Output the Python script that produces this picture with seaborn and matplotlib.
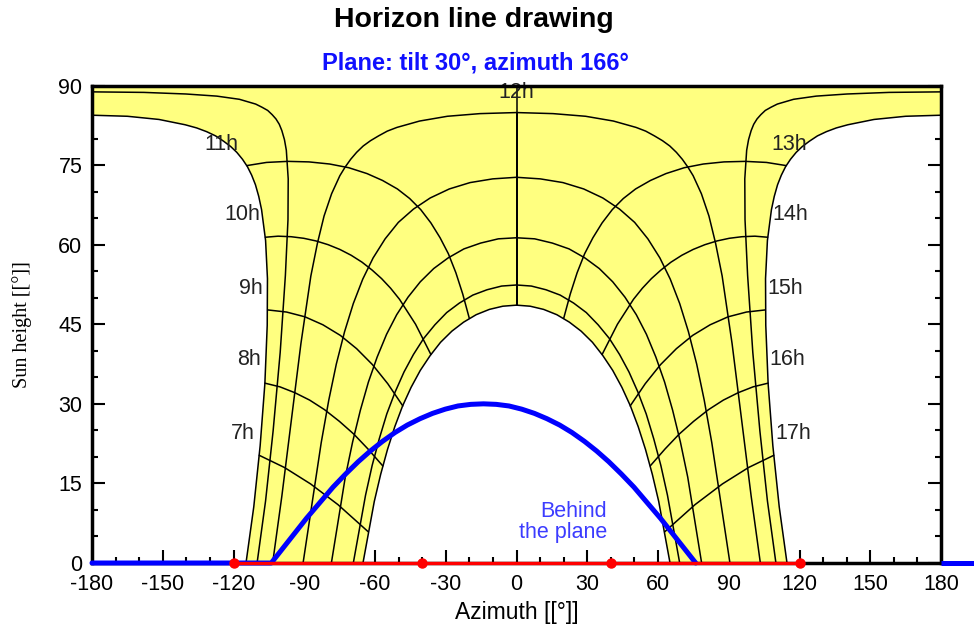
import numpy as np
import pandas as pd
import matplotlib
matplotlib.use('Agg')
import matplotlib.pyplot as plt
import seaborn as sns

# sun paths, morning half (sunrise -> solar noon); the afternoon half is its mirror image
jun_az = [-114.7, -111.4, -108.7, -106.7, -105.7, -105.6, -106.4, -108.1, -109.3, -110.7, -112.3, -114.1,
          -116.2, -118.6, -121.2, -124.2, -127.6, -131.4, -135.6, -140.5, -151.6, -165, -180]
jun_h = [0, 10.6, 22.1, 33.8, 44.8, 53.6, 60.8, 66.6, 69.1, 71.3, 73.1, 74.7,
         76.1, 77.4, 78.5, 79.5, 80.5, 81.3, 82, 82.6, 83.6, 84.2, 84.4]
may_az = [-110, -106.4, -103.2, -100.2, -98, -96.9, -96.8, -97.6, -98.4, -99.5, -100.6, -102,
          -103.6, -105.5, -107.9, -110.6, -117.5, -127.1, -140.2, -158, -180]
may_h = [0, 11.7, 24.9, 39.7, 54.2, 64.7, 72.4, 77.8, 79.8, 81.5, 82.7, 83.7,
         84.5, 85.3, 85.9, 86.5, 87.4, 88, 88.4, 88.7, 88.8]
apr_az = [-103.4, -99.5, -91.4, -87.2, -84.4, -81.6, -78.4, -74.9, -72.7, -70.3, -67.8, -65,
          -61.9, -58.5, -54.8, -50.7, -41.1, -29.3, -15.5, 0]
apr_h = [0, 12.6, 41.4, 54.1, 60.3, 65.4, 69.6, 73, 74.6, 76.1, 77.4, 78.6,
         79.6, 80.5, 81.4, 82.1, 83.3, 84.2, 84.7, 84.9]
mar_az = [-90.5, -82.8, -79.6, -76.4, -72.9, -69.2, -65.2, -60.8, -55.7, -50.1, -43.7, -36.6, -28.5, -19.7, -10.1, 0]
mar_h = [0, 22.7, 30.7, 37.5, 43.6, 48.9, 53.5, 57.5, 61.1, 64.2, 66.7, 68.8, 70.5, 71.7, 72.4, 72.7]
feb_az = [-78.5, -72.6, -69.5, -66.2, -62.8, -59.1, -55.1, -50.8, -46, -40.8, -35.1, -29, -22.3, -15.2, -7.7, 0]
feb_h = [0, 16.2, 22.8, 28.8, 34.1, 38.8, 43.1, 46.8, 50.1, 53, 55.5, 57.5, 59.2, 60.3, 61.1, 61.3]
jan_az = [-69.2, -64, -61.2, -58.2, -55, -51.5, -47.7, -43.7, -39.4, -34.6, -29.6, -24.2, -18.5, -12.5, -6.3, 0]
jan_h = [0, 12.8, 18.4, 23.4, 28.1, 32.2, 36, 39.3, 42.3, 44.9, 47.2, 49, 50.5, 51.5, 52.2, 52.4]
dec_az = [-65.1, -60.3, -57.6, -54.7, -51.6, -48.3, -44.7, -40.8, -36.6, -32.2, -27.4, -22.4, -17.1, -11.5, -5.8, 0]
dec_h = [0, 11.6, 16.7, 21.4, 25.7, 29.6, 33.1, 36.3, 39.1, 41.6, 43.7, 45.4, 46.8, 47.8, 48.4, 48.6]

# morning hour lines, from the June path to the December path
h07_az = [-109.1, -98.4, -87.3, -75.7, -62.9]
h07_h = [20.3, 18, 14.9, 11, 5.9]
h08_az = [-106.7, -100.3, -94, -87.7, -81.4, -75.1, -69, -63, -56.7]
h08_h = [33.9, 33.2, 32.1, 30.7, 28.9, 26.7, 24.3, 21.5, 18.3]
h09_az = [-105.5, -97.5, -89.7, -82.1, -74.7, -67.8, -61.1, -54.6, -48.2]
h09_h = [47.7, 47.3, 46.4, 44.9, 42.9, 40.4, 37.4, 33.8, 29.6]
h10_az = [-106.5, -101.1, -95.6, -90.2, -85, -79.9, -74.9, -70.1, -65.5, -61.2, -57.2, -53.4, -49.6, -42.8, -36.3]
h10_h = [61.4, 61.6, 61.5, 61.2, 60.7, 60, 59.1, 58, 56.7, 55.2, 53.6, 51.8, 49.7, 45, 39.3]
h11_az = [-114.4, -106, -97, -88, -79.2, -71.1, -63.4, -56.8, -50.5, -45.3, -40.6, -36.3, -32.4, -28.9,
          -25.7, -22.8, -20]
h11_h = [74.9, 75.5, 75.7, 75.6, 75.2, 74.5, 73.4, 72.1, 70.5, 68.7, 66.6, 64.1, 61.3, 58.3,
         54.7, 50.7, 46.1]

# plane horizon (tilt 30, azimuth 166)
plane_az = [-180, -104.0, -89.1, -77.8, -72.4, -67.1, -62.0, -56.9, -51.5, -46.3, -40.9, -35.6, -30.2, -24.8,
            -19.4, -14.0, -8.6, -3.2, 2.2, 7.6, 12.9, 18.3, 23.5, 28.9, 34.0, 39.1, 44.4, 49.8, 61.1, 76.0]
plane_h = [0, 0.0, 8.4, 14.3, 16.8, 19.1, 21.1, 22.9, 24.6, 26.0, 27.2, 28.2, 29.0, 29.6,
           29.9, 30.0, 29.9, 29.6, 29.0, 28.2, 27.2, 26.0, 24.6, 22.9, 21.1, 19.1, 16.8, 14.3, 8.4, 0.0]

# far horizon points
far_az = [-120, -40, 40, 120]
far_h = [0, 0, 0, 0]

hour_labels = ['7h', '8h', '9h', '10h', '11h', '12h', '13h', '14h', '15h', '16h', '17h']

paths = {'jun': (jun_az, jun_h), 'may': (may_az, may_h), 'apr': (apr_az, apr_h), 'mar': (mar_az, mar_h),
         'feb': (feb_az, feb_h), 'jan': (jan_az, jan_h), 'dec': (dec_az, dec_h)}
hours = {7: (h07_az, h07_h), 8: (h08_az, h08_h), 9: (h09_az, h09_h), 10: (h10_az, h10_h), 11: (h11_az, h11_h)}

W, H = 974, 630
x0, x1, yb, yt = 92, 941, 563, 85.5

sns.set_theme(style='white')
plt.rcParams['font.family'] = ['Liberation Sans', 'DejaVu Sans']
plt.rcParams['axes.unicode_minus'] = False

fig = plt.figure(figsize=(W / 100, H / 100), dpi=100)
ax = fig.add_axes([x0 / W, 1 - yb / H, (x1 - x0) / W, (yb - yt) / H])

# yellow area between the June and December paths
jaz, jh = np.array(jun_az), np.array(jun_h)
daz, dh = np.array(dec_az), np.array(dec_h)
fill_az = list(jaz) + [-180, 180] + list(-jaz[::-1]) + list(-daz) + list(daz[::-1])
fill_h = list(jh) + [90, 90] + list(jh[::-1]) + list(dh) + list(dh[::-1])
ax.fill(fill_az, fill_h, color='#ffff80', lw=0, zorder=1)

# date paths and hour lines
rows = []
for nm, (a, b) in paths.items():
    rows += [(nm + 'am', x, y) for x, y in zip(a, b)]
    rows += [(nm + 'pm', -x, y) for x, y in zip(a, b)]
for hr, (a, b) in hours.items():
    rows += [(f'{hr}am', x, y) for x, y in zip(a, b)]
    rows += [(f'{hr}pm', -x, y) for x, y in zip(a, b)]
noon = [b[-1] for a, b in paths.values() if a[-1] == 0] + [90]
rows += [('12', 0, y) for y in noon]
grid = pd.DataFrame(rows, columns=['curve', 'az', 'h'])
sns.lineplot(data=grid, x='az', y='h', units='curve', estimator=None, sort=False,
             color='black', lw=1.1, ax=ax, zorder=3)

hour_pos = [(-116.0, 24.5), (-113.4, 38.3), (-112.8, 51.8), (-116.4, 65.6), (-125.3, 78.9),
            (0, 88.6), (115.7, 78.9), (116.0, 65.6), (114.0, 51.8), (114.7, 38.3), (117.4, 24.5)]
for t, (x, y) in zip(hour_labels, hour_pos):
    ax.text(x, y, t, ha='center', va='center', fontsize=15.5, color='#222222', zorder=4)

# plane horizon and far horizon
ax.plot(plane_az, plane_h, color='#0000ff', lw=3.6, clip_on=False, zorder=9)
ax.plot([180, 200], [0, 0], color='#0000ff', lw=3.6, clip_on=False, zorder=9, solid_capstyle='butt')
ax.plot(far_az, far_h, color='#ff0000', lw=2.4, marker='o', ms=6.5,
        mec='#ff0000', mfc='#ff0000', clip_on=False, zorder=10)

ax.text(38.4, 7.8, 'Behind\nthe plane', ha='right', va='center', multialignment='right',
        fontsize=15.5, color='#3c3cff', linespacing=1.0, zorder=7)

ax.set_xlim(-180, 180)
ax.set_ylim(0, 90)
ax.set_xticks(range(-180, 181, 30))
ax.set_xticks(range(-180, 181, 10), minor=True)
ax.set_yticks(range(0, 91, 15))
ax.set_yticks(range(0, 91, 5), minor=True)
ax.tick_params(which='both', direction='in', bottom=True, left=True, right=True, top=False,
               width=1.5, color='black', labelsize=15.5, labelcolor='black')
ax.tick_params(axis='x', which='major', length=9.5, pad=8)
ax.tick_params(axis='y', which='major', length=9.5, pad=7)
ax.tick_params(which='minor', length=4)
for sp in ax.spines.values():
    sp.set_linewidth(2.5)
    sp.set_color('black')
    sp.set_zorder(8)
ax.set_xlabel('Azimuth [[°]]', fontsize=16.5, color='black')
ax.xaxis.set_label_coords(0.5, (yb - 612) / (yb - yt))
ax.xaxis.label.set_va('center')
ax.set_ylabel('Sun height [[°]]', fontsize=14.5, color='black', family='Liberation Serif')
ax.yaxis.set_label_coords((22 - x0) / (x1 - x0), 0.5)
ax.yaxis.label.set_va('center')

fig.text(474 / W, 1 - 20 / H, 'Horizon line drawing', ha='center', va='center',
         fontsize=20.5, fontweight='bold', color='black')
fig.text(475 / W, 1 - 63 / H, 'Plane: tilt 30°, azimuth 166°', ha='center', va='center',
         fontsize=17, fontweight='bold', color='#1010ff')

fig.savefig('out.png')
